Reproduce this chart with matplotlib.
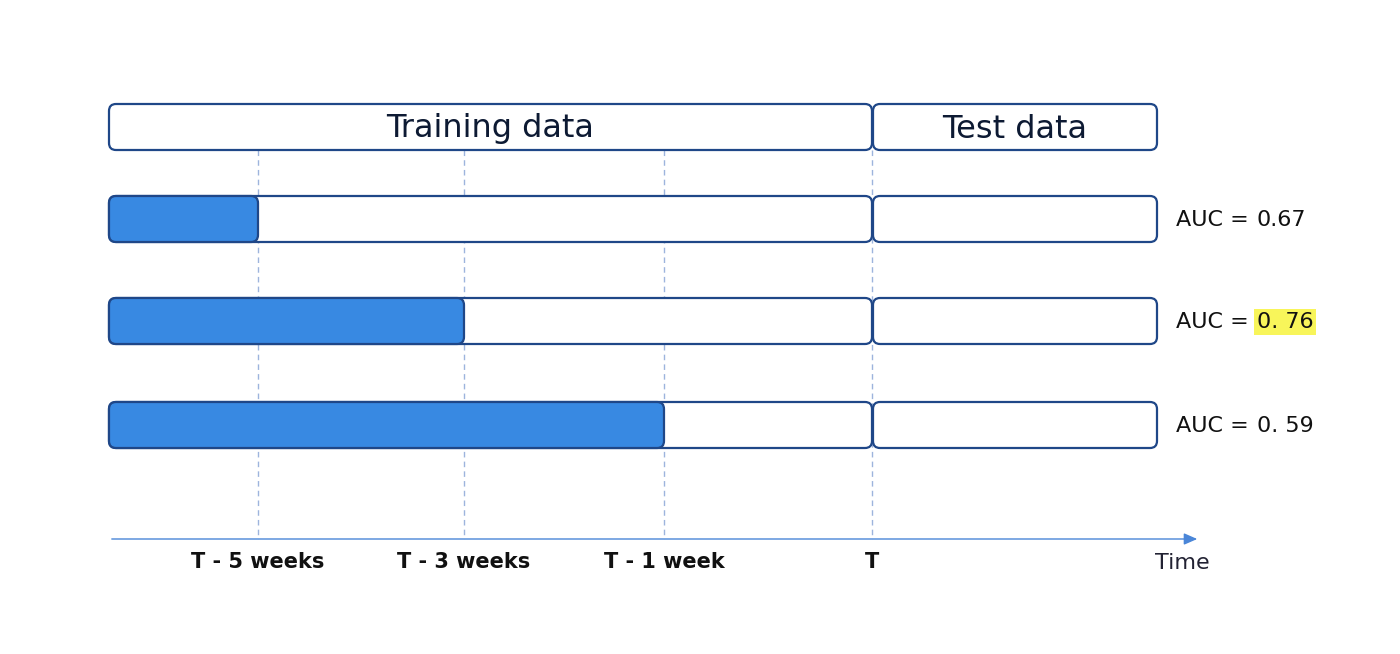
import matplotlib
matplotlib.use("Agg")
import matplotlib.pyplot as plt
from matplotlib.patches import FancyBboxPatch

# ---- data ----
tick_labels = ["T - 5 weeks", "T - 3 weeks", "T - 1 week", "T"]
tick_pos = [258, 464, 664, 872]          # schematic time positions
train_start = 109
test_end = 1157
train_ends = [258, 464, 664]             # end of filled training window per row
row_centers = [219, 321, 425]
auc_values = ["0.67", "0. 76", "0. 59"]
auc_highlight = [False, True, False]
header_labels = ["Training data", "Test data"]

# ---- styles ----
EDGE = "#1f4788"
FILL = "#3889e2"
DASH = "#9db4dd"
TEXT = "#111111"
plt.rcParams['font.family'] = ["DejaVu Sans"]

fig = plt.figure(figsize=(14, 6.54), dpi=100)
ax = fig.add_axes([0, 0, 1, 1])
ax.set_xlim(0, 1400)
ax.set_ylim(654, 0)
ax.axis("off")

H = 46
def rbox(x0, x1, yc, fc="white", z=2):
    p = FancyBboxPatch((x0, yc - H / 2), x1 - x0, H,
                       boxstyle="round,pad=0,rounding_size=7",
                       fc=fc, ec=EDGE, lw=1.6, zorder=z,
                       mutation_aspect=1)
    ax.add_patch(p)

T = tick_pos[-1]
# header boxes
hy = 127
rbox(train_start, T, hy)
rbox(T + 1, test_end, hy)
ax.text((train_start + T) / 2, hy + 2, header_labels[0], ha="center", va="center",
        fontsize=23, color="#0d1a33", zorder=5)
ax.text((T + 1 + test_end) / 2, hy + 2, header_labels[1], ha="center", va="center",
        fontsize=23, color="#0d1a33", zorder=5)

# dashed vertical lines
axis_y = 539
for x in tick_pos:
    ax.plot([x, x], [hy + H / 2, axis_y], color=DASH, lw=1, ls=(0, (4, 3)), zorder=1)

# rows
for yc, xe, val, hl in zip(row_centers, train_ends, auc_values, auc_highlight):
    rbox(train_start, T, yc, z=2)
    rbox(train_start, xe, yc, fc=FILL, z=3)
    rbox(T + 1, test_end, yc, z=2)
    ax.text(1249, yc + 1, "AUC =", ha="right", va="center", fontsize=16, color=TEXT)
    kw = {}
    if hl:
        kw["bbox"] = dict(boxstyle="square,pad=0.12", fc="#f8f55a", ec="none")
    ax.text(1257, yc + 1, val, ha="left", va="center", fontsize=16, color=TEXT, **kw)

# time axis
ax.annotate("", xy=(1200, axis_y), xytext=(train_start, axis_y),
            arrowprops=dict(arrowstyle="-|>,head_length=0.8,head_width=0.35",
                            color="#4a86d8", lw=1))
for x, lab in zip(tick_pos, tick_labels):
    ax.text(x, 562, lab, ha="center", va="center", fontsize=15,
            fontweight="bold", color=TEXT)
ax.text(1182, 563, "Time", ha="center", va="center", fontsize=16, color="#222233")

fig.savefig("out.png", dpi=100)
